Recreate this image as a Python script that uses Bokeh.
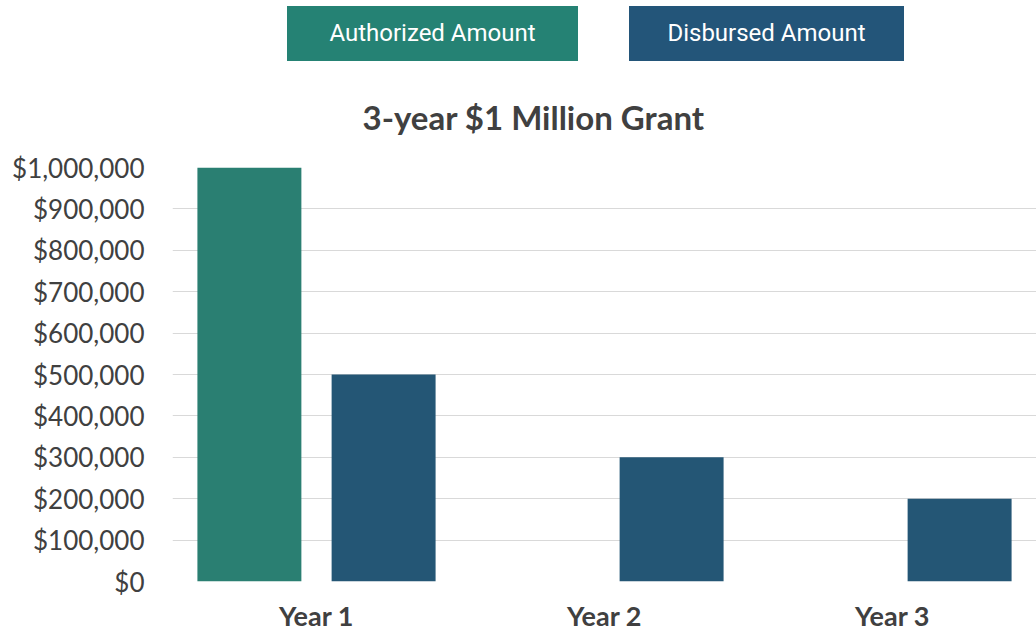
from bokeh.plotting import figure
from bokeh.models import ColumnDataSource, FactorRange, Range1d, NumeralTickFormatter, Div, FixedTicker
from bokeh.layouts import column
from bokeh.transform import dodge
from bokeh.embed import file_html
from bokeh.resources import INLINE

# ---- data ----
years = ["Year 1", "Year 2", "Year 3"]
authorized = [1000000, 0, 0]
disbursed = [500000, 300000, 200000]
y_ticks = [0, 100000, 200000, 300000, 400000, 500000, 600000, 700000, 800000, 900000, 1000000]
series_names = ["Authorized Amount", "Disbursed Amount"]
title_text = "3-year $1 Million Grant"

TEAL = "#2a7f72"
NAVY = "#245675"
TEAL_L = "#258274"
NAVY_L = "#235579"

src = ColumnDataSource(dict(year=years, authorized=authorized, disbursed=disbursed))

p = figure(
    x_range=FactorRange(*years),
    y_range=Range1d(0, 1000000),
    width=1036, height=570,
    output_backend="svg", toolbar_location=None,
    title=title_text,
    min_border_left=172, min_border_right=0,
    min_border_top=98, min_border_bottom=53,
)
p.outline_line_color = None
p.background_fill_color = "white"

p.vbar(x=dodge("year", -0.233, range=p.x_range), top="authorized", width=0.361,
       source=src, fill_color=TEAL, line_color=None)
p.vbar(x=dodge("year", 0.233, range=p.x_range), top="disbursed", width=0.361,
       source=src, fill_color=NAVY, line_color=None)

p.title.align = "left"
p.title.offset = 190
p.title.text_font = "Lato"
p.title.text_font_size = "33px"
p.title.text_font_style = "bold"
p.title.text_color = "#404040"
p.title.standoff = 61

p.xgrid.grid_line_color = None
p.ygrid.grid_line_color = "#d9d9d9"
p.ygrid.grid_line_width = 1

p.yaxis.ticker = FixedTicker(ticks=y_ticks)
p.yaxis.formatter = NumeralTickFormatter(format="$0,0")
p.yaxis.axis_line_color = None
p.yaxis.major_tick_line_color = None
p.yaxis.minor_tick_line_color = None
p.yaxis.major_tick_out = 0
p.yaxis.major_label_standoff = 28
p.yaxis.major_label_text_font = "Lato"
p.yaxis.major_label_text_font_size = "26px"
p.yaxis.major_label_text_color = "#404040"

p.xaxis.axis_line_color = None
p.xaxis.major_tick_line_color = None
p.xaxis.major_tick_out = 0
p.xaxis.major_label_standoff = 17
p.xaxis.major_label_text_font = "Lato"
p.xaxis.major_label_text_font_size = "27px"
p.xaxis.major_label_text_font_style = "bold"
p.xaxis.major_label_text_color = "#404040"


def box(left, width, text, color):
    return (f'<div style="position:absolute;left:{left}px;top:6px;width:{width}px;height:55px;'
            f'background:{color};color:white;font-family:Roboto;font-size:24px;'
            f'display:flex;align-items:center;justify-content:center;">{text}</div>')


legend_html = ('<div style="position:relative;width:1036px;height:64px;">'
               + box(287, 291, series_names[0], TEAL_L)
               + box(629, 275, series_names[1], NAVY_L)
               + '</div>')
div = Div(text=legend_html, width=1036, height=64, margin=0)

layout = column(div, p, spacing=0)

open("out.html", "w").write(file_html(layout, INLINE))
